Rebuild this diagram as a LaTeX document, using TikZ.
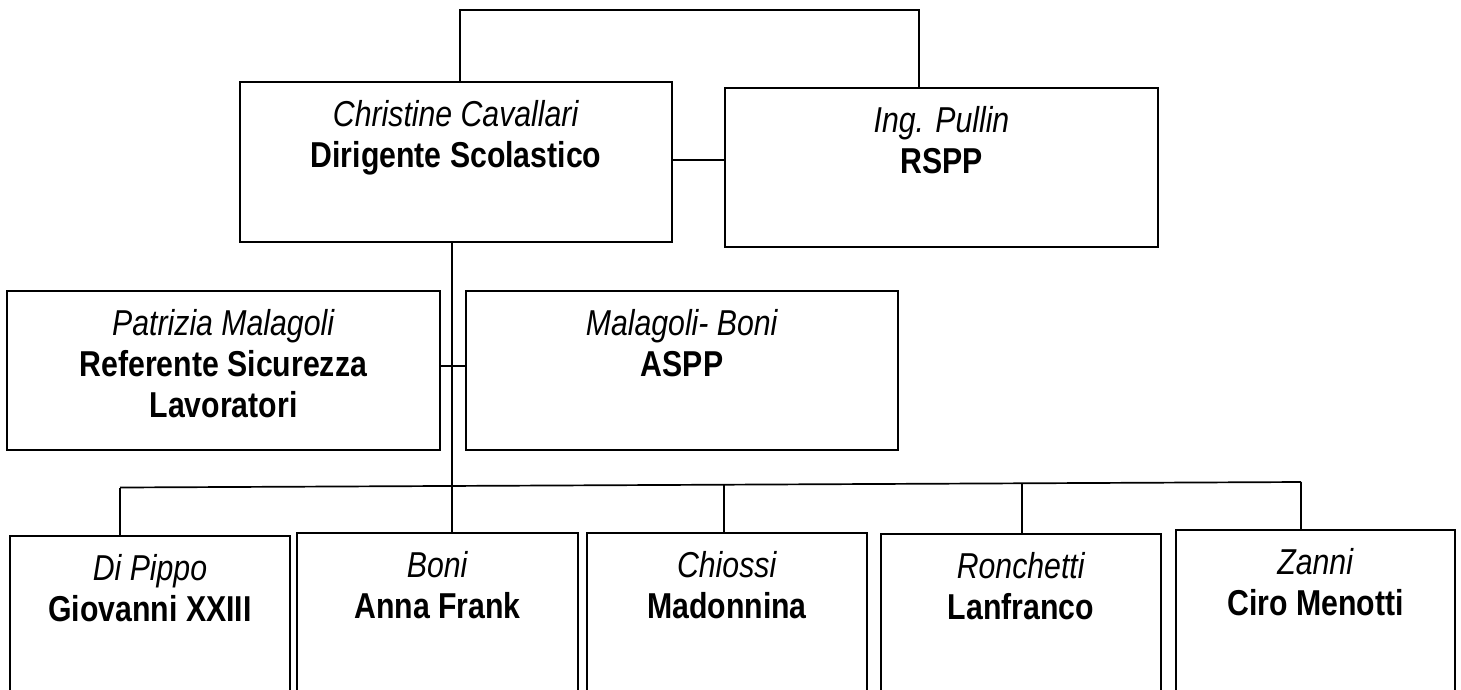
\documentclass[tikz,border=0pt]{standalone}
\usepackage{fontspec}
\setmainfont{Liberation Sans}[FakeStretch=0.84]
\tikzset{
  boxnode/.style={draw=black, line width=1.8pt, inner sep=0pt, fill=white},
  conn/.style={draw=black, line width=1.7pt},
  lbl/.style={anchor=north, align=center, inner sep=0pt,
    font=\fontsize{36}{41}\selectfont, yshift=-19pt}
}
\begin{document}
\begin{tikzpicture}[x=1pt,y=-1pt]
\useasboundingbox (0,0) rectangle (1461,689);
\fill[white] (0,0) rectangle (1461,689);

% top row
\node[boxnode, minimum width=432pt, minimum height=160pt] (main) at (456,162) {};
\node[boxnode, minimum width=433pt, minimum height=159pt] (rspp) at (941.5,167.5) {};
\node[lbl] (maint) at (main.north) {\textit{Christine Cavallari}\\\textbf{Dirigente Scolastico}};
\node[lbl] (rsppt) at (rspp.north) {\textit{Ing. Pullin}\\\textbf{RSPP}};

% middle row
\node[boxnode, minimum width=433pt, minimum height=159pt] (pat) at (223.5,370.5) {};
\node[boxnode, minimum width=432pt, minimum height=159pt] (mal) at (682,370.5) {};
\node[lbl] (patt) at (pat.north) {\textit{Patrizia Malagoli}\\\textbf{Referente Sicurezza}\\\textbf{Lavoratori}};
\node[lbl] (malt) at (mal.north) {\textit{Malagoli- Boni}\\\textbf{ASPP}};

% bottom row (boxes run past the lower edge)
\node[boxnode, minimum width=280pt, minimum height=184pt] (dip) at (150,628) {};
\node[boxnode, minimum width=281pt, minimum height=187pt] (boni) at (437.5,626.5) {};
\node[boxnode, minimum width=280pt, minimum height=187pt] (chi) at (727,626.5) {};
\node[boxnode, minimum width=280pt, minimum height=186pt] (ron) at (1021,627) {};
\node[boxnode, minimum width=279pt, minimum height=190pt] (zan) at (1315.5,625) {};
\node[lbl] (dipt) at (dip.north) {\textit{Di Pippo}\\\textbf{Giovanni XXIII}};
\node[lbl] (bonit) at (boni.north) {\textit{Boni}\\\textbf{Anna Frank}};
\node[lbl] (chit) at (chi.north) {\textit{Chiossi}\\\textbf{Madonnina}};
\node[lbl] (ront) at (ron.north) {\textit{Ronchetti}\\\textbf{Lanfranco}};
\node[lbl] (zant) at (zan.north) {\textit{Zanni}\\\textbf{Ciro Menotti}};

% connectors
\coordinate (tl) at (460,10);
\coordinate (tr) at (919,10);
\draw[conn] (main.north -| tl) -- (tl) -- (tr) -- (rspp.north -| tr);
\coordinate (mr) at (672,160);
\draw[conn] (main.east |- mr) -- (rspp.west |- mr);
\coordinate (pm) at (440,366);
\draw[conn] (pat.east |- pm) -- (mal.west |- pm);

\coordinate (spine) at (452,242);
\coordinate (busl) at (120,487.5);
\coordinate (busr) at (1301,482);
\coordinate (busc) at (724,485);
\coordinate (busn) at (1022,483.5);
\draw[conn] (spine) -- (spine |- boni.north);
\draw[conn] (busl) -- (busr);
\draw[conn] (busl) -- (busl |- dip.north);
\draw[conn] (busc) -- (busc |- chi.north);
\draw[conn] (busn) -- (busn |- ron.north);
\draw[conn] (busr) -- (busr |- zan.north);
\end{tikzpicture}
\end{document}
